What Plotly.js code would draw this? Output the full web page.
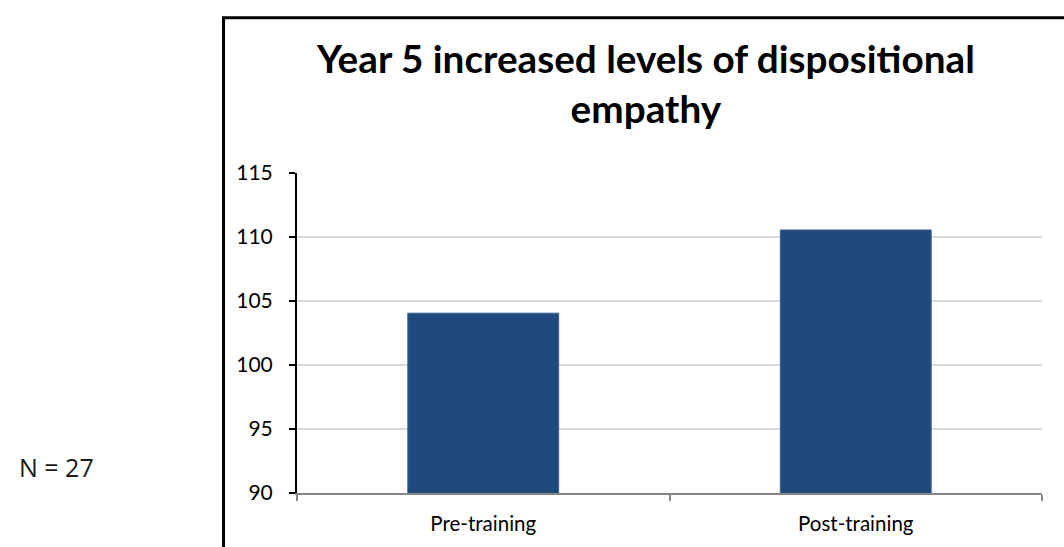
<!DOCTYPE html>
<html>
<head>
<meta charset="utf-8">
<script src="https://cdn.plot.ly/plotly-3.0.1.min.js"></script>
<style>
html,body{margin:0;padding:0;background:#fff;}
#chart{width:1064px;height:547px;}
</style>
</head>
<body>
<div id="chart"></div>
<script>
const categories = ["Pre-training", "Post-training"];
const empathyScores = [104.05, 110.55];
const yTickValues = [90, 95, 100, 105, 110, 115];
const chartTitle = "Year 5 increased levels of dispositional<br>empathy";
const noteText = "N = 27";

const trace = {
  type: "bar",
  x: categories,
  y: empathyScores,
  marker: {color: "#214a7c", line: {color: "#3b6090", width: 1}},
  hoverinfo: "x+y"
};

const layout = {
  width: 1064,
  height: 547,
  margin: {l: 297, r: 22, t: 173, b: 54},
  paper_bgcolor: "#ffffff",
  plot_bgcolor: "#ffffff",
  showlegend: false,
  bargap: 0.595,
  font: {family: "Lato, 'Open Sans', sans-serif", color: "#000000"},
  title: {
    text: chartTitle,
    font: {family: "Lato, sans-serif", size: 38.7, color: "#000000", weight: "bold"},
    x: 0.607,
    xanchor: "center",
    xref: "container",
    y: 0.867,
    yanchor: "top",
    yref: "container"
  },
  xaxis: {
    type: "category",
    showline: true,
    linecolor: "#868686",
    linewidth: 2,
    ticks: "outside",
    tickson: "boundaries",
    ticklen: 6,
    tickcolor: "#868686",
    tickwidth: 2,
    showgrid: false,
    tickfont: {family: "Lato, sans-serif", size: 20.5, color: "#000000"},
    ticklabelstandoff: 11,
    fixedrange: true
  },
  yaxis: {
    range: [90, 115],
    tickvals: yTickValues,
    ticktext: yTickValues.map(String),
    showline: true,
    linecolor: "#000000",
    linewidth: 2,
    ticks: "outside",
    ticklen: 6,
    tickcolor: "#000000",
    tickwidth: 2,
    showgrid: true,
    gridcolor: "#d9d9d9",
    gridwidth: 1.5,
    zeroline: false,
    tickfont: {family: "Lato, sans-serif", size: 21, color: "#000000"},
    ticklabelstandoff: 12,
    fixedrange: true
  },
  shapes: [{
    type: "rect",
    xref: "paper", yref: "paper",
    x0: -0.0986, x1: 1.2,
    y0: -0.5, y1: 1.485,
    line: {color: "#000000", width: 3},
    fillcolor: "rgba(0,0,0,0)",
    layer: "below"
  }],
  annotations: [{
    text: noteText,
    xref: "paper", yref: "paper",
    x: -0.376, y: 0.08,
    xanchor: "left", yanchor: "middle",
    showarrow: false,
    font: {family: "'Open Sans', 'Noto Sans', sans-serif", size: 25, color: "#1a1a1a"}
  }]
};

Plotly.newPlot("chart", [trace], layout, {displayModeBar: false, staticPlot: true});
</script>
</body>
</html>
